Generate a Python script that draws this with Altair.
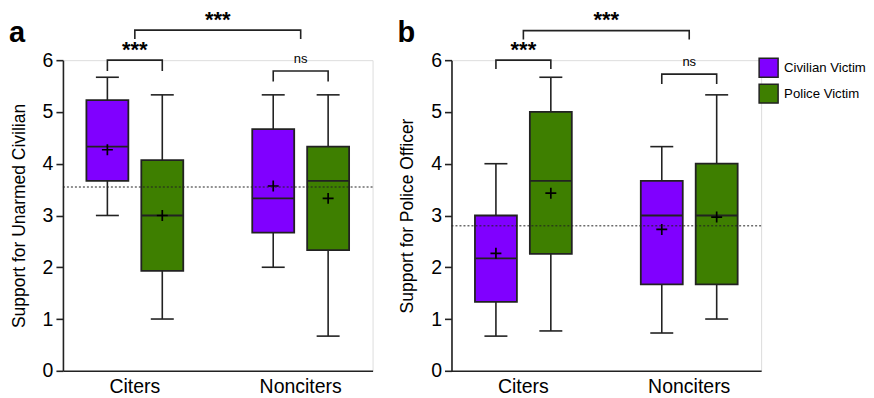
import altair as alt
import pandas as pd

groups = ["Citers", "Citers", "Nonciters", "Nonciters"]
victims = ["Civilian Victim", "Police Victim", "Civilian Victim", "Police Victim"]

# Panel a: Support for Unarmed Civilian
a_min = [3.0, 1.0, 2.0, 0.67]
a_q1 = [3.67, 1.93, 2.67, 2.33]
a_med = [4.33, 3.0, 3.33, 3.67]
a_q3 = [5.23, 4.07, 4.67, 4.33]
a_max = [5.67, 5.33, 5.33, 5.33]
a_mean = [4.27, 3.0, 3.57, 3.33]
a_ref = 3.55

# Panel b: Support for Police Officer
b_min = [0.67, 0.77, 0.73, 1.0]
b_q1 = [1.33, 2.26, 1.67, 1.67]
b_med = [2.17, 3.67, 3.0, 3.0]
b_q3 = [3.0, 5.0, 3.67, 4.0]
b_max = [4.0, 5.67, 4.33, 5.33]
b_mean = [2.27, 3.43, 2.73, 2.97]
b_ref = 2.8

# brackets: (group, top level, leg bottom, label, label level)
a_inner = [("Citers", 6.0, 5.79, "***", 6.2), ("Nonciters", 5.79, 5.59, "ns", 6.02)]
a_outer = (6.58, 6.41, "***", 6.78)
b_inner = [("Citers", 6.0, 5.83, "***", 6.2), ("Nonciters", 5.73, 5.54, "ns", 5.96)]
b_outer = (6.57, 6.40, "***", 6.78)

group_order = ["Citers", "Nonciters"]
victim_order = ["Civilian Victim", "Police Victim"]
colors = ["#8000FF", "#3E7F00"]

FONT = "Liberation Sans"
INK = "#222"
H = 311


def panel(mins, q1s, meds, q3s, maxs, means, ref, inner, outer, ytitle, letter):
    df = pd.DataFrame({
        "group": groups, "victim": victims, "min": mins, "q1": q1s,
        "median": meds, "q3": q3s, "max": maxs, "mean": means,
    })
    xenc = alt.X("group:N", sort=group_order,
                 scale=alt.Scale(paddingInner=0.416, paddingOuter=0.1415),
                 axis=alt.Axis(title=None, labelAngle=0, labelFontSize=19.5, labelColor="black",
                               ticks=False, domainColor=INK, domainWidth=1.6,
                               labelPadding=7, labelFont=FONT))
    xoff = alt.XOffset("victim:N", sort=victim_order,
                       scale=alt.Scale(paddingInner=0.236, paddingOuter=0))
    yscale = alt.Scale(domain=[0, 6], nice=False, zero=True)
    yaxis = alt.Axis(values=[0, 1, 2, 3, 4, 5, 6], title=ytitle, titleFontSize=17.5,
                     titleFontWeight="normal", titleColor="black", titleFont=FONT,
                     labelFontSize=19.5, labelColor="black", labelFont=FONT,
                     tickColor=INK, tickWidth=1.6, tickSize=7, domainColor=INK,
                     domainWidth=1.6, grid=False, labelPadding=3, titlePadding=14)
    base = alt.Chart(df).encode(x=xenc, xOffset=xoff)

    whisk_lo = base.mark_rule(color=INK, strokeWidth=1.6).encode(
        y=alt.Y("min:Q", scale=yscale, axis=yaxis), y2="q1:Q")
    whisk_hi = base.mark_rule(color=INK, strokeWidth=1.6).encode(
        y=alt.Y("q3:Q"), y2="max:Q")
    cap_lo = base.mark_tick(color=INK, thickness=1.6, size=23, orient="horizontal",
                            opacity=1).encode(y="min:Q")
    cap_hi = base.mark_tick(color=INK, thickness=1.6, size=23, orient="horizontal",
                            opacity=1).encode(y="max:Q")
    col = alt.Color("victim:N", sort=victim_order,
                    scale=alt.Scale(domain=victim_order, range=colors),
                    legend=alt.Legend(title=None, symbolType="square", symbolSize=361,
                                      symbolStrokeColor=INK, symbolStrokeWidth=1.5,
                                      symbolOpacity=1, labelFontSize=13.2, labelFont=FONT,
                                      labelColor="black", rowPadding=1,
                                      orient="none", legendX=696, legendY=-3,
                                      labelOffset=5, padding=0))
    box = base.mark_bar(stroke=INK, strokeWidth=1.8, opacity=1).encode(
        y="q1:Q", y2="q3:Q", color=col)
    med = base.mark_tick(color=INK, thickness=1.8, size=42, orient="horizontal",
                         opacity=1).encode(y="median:Q")
    mean = base.mark_point(shape="M -1 0 L 1 0 M 0 -1 L 0 1", size=120, stroke="black",
                           strokeWidth=1.7, filled=False, opacity=1).encode(y="mean:Q")

    refline = alt.Chart(pd.DataFrame({"ref": [ref]})).mark_rule(
        color=INK, strokeDash=[2, 2], strokeWidth=1).encode(y="ref:Q")

    # inner brackets
    rows = []
    lab = []
    for i, (g, top, bot, text, ty) in enumerate(inner):
        rows += [
            {"bid": i, "group": g, "victim": victim_order[0], "y": bot, "o": 0},
            {"bid": i, "group": g, "victim": victim_order[0], "y": top, "o": 1},
            {"bid": i, "group": g, "victim": victim_order[1], "y": top, "o": 2},
            {"bid": i, "group": g, "victim": victim_order[1], "y": bot, "o": 3},
        ]
        lab.append({"group": g, "y": ty, "text": text})
    idf = pd.DataFrame(rows)
    inner_lines = alt.Chart(idf).mark_line(color=INK, strokeWidth=1.6, clip=False).encode(
        x=alt.X("group:N", sort=group_order), xOffset=alt.XOffset("victim:N", sort=victim_order),
        y="y:Q", detail="bid:N", order="o:Q")
    top, bot, otext, oty = outer
    odf = pd.DataFrame([
        {"group": group_order[0], "y": bot, "o": 0},
        {"group": group_order[0], "y": top, "o": 1},
        {"group": group_order[1], "y": top, "o": 2},
        {"group": group_order[1], "y": bot, "o": 3},
    ])
    outer_line = alt.Chart(odf).mark_line(color=INK, strokeWidth=1.6, clip=False).encode(
        x=alt.X("group:N", sort=group_order), y="y:Q", order="o:Q")
    ldf = pd.DataFrame(lab)
    star_lab = alt.Chart(ldf[ldf.text == "***"]).mark_text(
        fontSize=22, fontWeight="bold", font=FONT, color="black", baseline="middle").encode(
        x=alt.X("group:N", sort=group_order), y="y:Q", text="text:N")
    ns_lab = alt.Chart(ldf[ldf.text != "***"]).mark_text(
        fontSize=13, font=FONT, color="black", baseline="middle").encode(
        x=alt.X("group:N", sort=group_order), y="y:Q", text="text:N")
    # outer label centred between the two group centres (middle of the panel)
    olab = pd.DataFrame([{"y": oty, "text": otext}])
    outer_lab = alt.Chart(olab).mark_text(
        fontSize=22, fontWeight="bold", font=FONT, color="black", baseline="middle").encode(
        x=alt.value(155), y="y:Q", text="text:N")
    letter_mark = alt.Chart(pd.DataFrame({"t": [letter]})).mark_text(
        fontSize=29, fontWeight="bold", font=FONT, color="black", align="left",
        baseline="alphabetic").encode(x=alt.value(-54), y=alt.value(-18), text="t:N")

    return alt.layer(whisk_lo, whisk_hi, cap_lo, cap_hi, box, med, mean, refline,
                     inner_lines, outer_line, star_lab, ns_lab, outer_lab, letter_mark
                     ).properties(width=310, height=H)


pa = panel(a_min, a_q1, a_med, a_q3, a_max, a_mean, a_ref, a_inner, a_outer,
           "Support for Unarmed Civilian", "a")
pb = panel(b_min, b_q1, b_med, b_q3, b_max, b_mean, b_ref, b_inner, b_outer,
           "Support for Police Officer", "b")

chart = alt.hconcat(pa, pb, spacing=23).configure_view(strokeWidth=0).configure(
    padding={"left": 0, "top": 0, "right": 0, "bottom": 0})

chart.save("out.html", embed_options={"renderer": "svg", "actions": False})
